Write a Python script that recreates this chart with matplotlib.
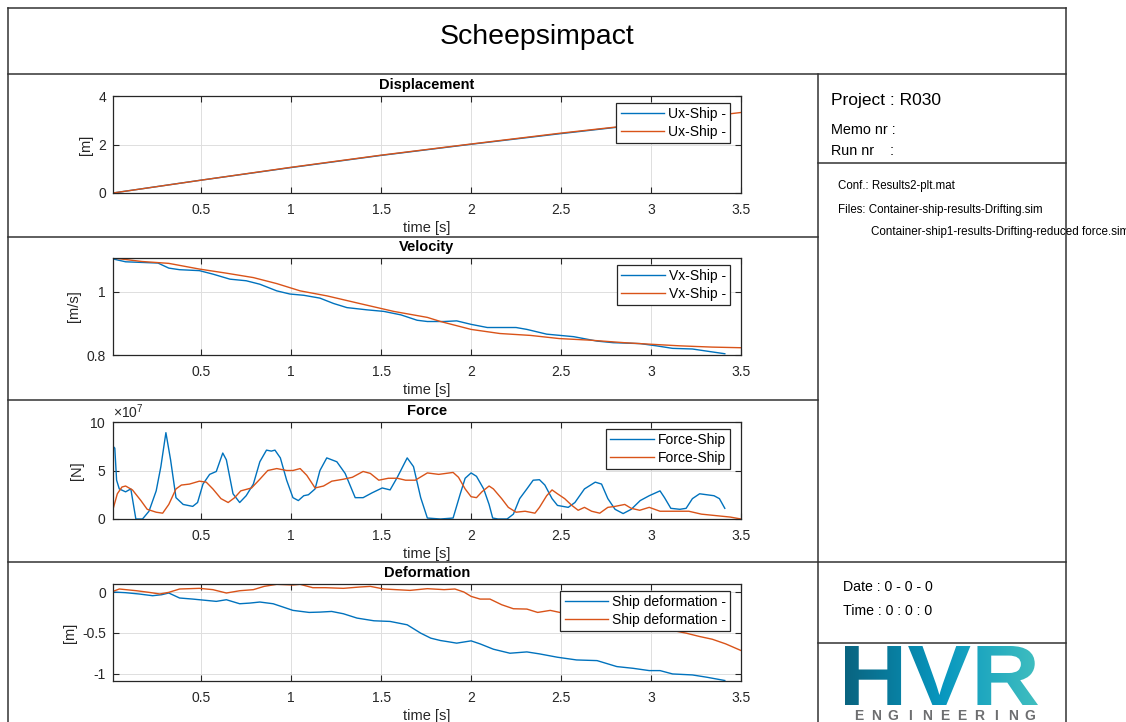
import numpy as np
import matplotlib
matplotlib.use("Agg")
import matplotlib.pyplot as plt
from matplotlib.lines import Line2D
from matplotlib.textpath import TextPath
from matplotlib.patches import PathPatch
from matplotlib.font_manager import FontProperties
from matplotlib.transforms import Affine2D
from matplotlib.colors import LinearSegmentedColormap

plt.rcParams.update({
    "font.family": "Liberation Sans",
    "mathtext.fontset": "custom",
    "mathtext.rm": "Liberation Sans",
    "font.size": 10,
    "axes.edgecolor": "#262626",
    "axes.linewidth": 0.9,
    "xtick.color": "#262626",
    "ytick.color": "#262626",
    "xtick.direction": "in",
    "ytick.direction": "in",
    "xtick.top": True,
    "ytick.right": True,
    "xtick.major.size": 4,
    "ytick.major.size": 4,
    "xtick.major.pad": 7,
    "ytick.major.pad": 5,
    "xtick.labelsize": 10,
    "ytick.labelsize": 10,
})

BLUE = "#0072BD"
ORANGE = "#D95319"

# ---------------- data ----------------
disp_t_blue = [0.01, 0.5, 1.0, 1.5, 2.0, 2.5, 3.0, 3.41]
disp_blue = [0.0, 0.53, 1.05, 1.55, 2.01, 2.45, 2.87, 3.20]
disp_t_orange = [0.01, 0.5, 1.0, 1.5, 2.0, 2.5, 3.0, 3.5]
disp_orange = [0.0, 0.53, 1.06, 1.56, 2.02, 2.47, 2.88, 3.32]

vel_t_blue = [0.01, 0.08, 0.17, 0.26, 0.32, 0.38, 0.49, 0.565, 0.66, 0.75, 0.826, 0.92,
              0.993, 1.07, 1.16, 1.236, 1.31, 1.42, 1.515, 1.61, 1.70, 1.757, 1.85,
              1.92, 2.0, 2.09, 2.25, 2.31, 2.42, 2.57, 2.70, 2.79, 2.94, 3.03, 3.12,
              3.23, 3.325, 3.41]
vel_blue = [1.104, 1.095, 1.093, 1.091, 1.075, 1.070, 1.067, 1.056, 1.040, 1.035, 1.024,
            1.003, 0.993, 0.989, 0.980, 0.963, 0.950, 0.943, 0.938, 0.927, 0.910, 0.906,
            0.906, 0.908, 0.897, 0.887, 0.887, 0.881, 0.866, 0.858, 0.844, 0.839, 0.836,
            0.829, 0.821, 0.819, 0.811, 0.804]
vel_t_orange = [0.01, 0.17, 0.32, 0.49, 0.64, 0.79, 0.92, 1.05, 1.20, 1.38, 1.57, 1.757,
                1.83, 2.0, 2.16, 2.33, 2.49, 2.66, 2.85, 3.0, 3.16, 3.34, 3.5]
vel_orange = [1.107, 1.096, 1.090, 1.072, 1.059, 1.045, 1.026, 1.003, 0.987, 0.963,
              0.938, 0.919, 0.906, 0.881, 0.868, 0.862, 0.852, 0.847, 0.839, 0.834,
              0.829, 0.825, 0.823]

# force in units of 1e7 N
force_t_blue = [0.01, 0.02, 0.03, 0.045, 0.08, 0.109, 0.137, 0.174, 0.21, 0.25, 0.276,
                0.304, 0.33, 0.36, 0.40, 0.453, 0.48, 0.51, 0.547, 0.584, 0.62, 0.64,
                0.677, 0.714, 0.75, 0.79, 0.826, 0.863, 0.89, 0.91, 0.94, 0.975, 1.01,
                1.04, 1.07, 1.096, 1.133, 1.16, 1.198, 1.254, 1.30, 1.356, 1.40, 1.45,
                1.506, 1.55, 1.59, 1.645, 1.68, 1.72, 1.757, 1.83, 1.90, 1.94, 1.967,
                2.0, 2.03, 2.07, 2.10, 2.12, 2.15, 2.20, 2.235, 2.27, 2.31, 2.345,
                2.38, 2.41, 2.45, 2.48, 2.54, 2.577, 2.63, 2.69, 2.725, 2.76, 2.80,
                2.845, 2.89, 2.94, 2.99, 3.05, 3.075, 3.11, 3.16, 3.195, 3.23, 3.27,
                3.31, 3.35, 3.38, 3.41]
force_blue = [7.5, 7.3, 4.0, 3.1, 2.8, 3.1, 0.0, 0.0, 0.8, 2.9, 5.4,
              8.9, 6.1, 2.2, 1.5, 1.3, 1.7, 3.6, 4.6, 4.9, 6.8, 6.1,
              2.6, 1.7, 2.4, 3.6, 5.9, 7.1, 7.0, 7.1, 6.3, 4.0, 2.2,
              1.9, 2.4, 2.5, 3.1, 5.0, 6.3, 5.9, 4.7, 2.2, 2.2, 2.7,
              3.2, 3.0, 4.3, 6.3, 5.4, 2.2, 0.1, 0.0, 0.1, 2.6, 4.2,
              4.75, 4.4, 3.1, 1.5, 0.1, 0.0, 0.0, 0.5, 2.1, 3.1, 4.0,
              4.05, 3.5, 2.1, 1.4, 1.2, 1.7, 3.1, 3.8, 3.6, 2.1, 1.0,
              0.56, 1.0, 1.9, 2.4, 2.9, 2.2, 1.1, 1.0, 1.1, 2.1, 2.6,
              2.5, 2.4, 2.1, 1.1]
force_t_orange = [0.01, 0.034, 0.06, 0.08, 0.118, 0.165, 0.20, 0.25, 0.286, 0.32, 0.36,
                  0.39, 0.435, 0.49, 0.528, 0.565, 0.61, 0.65, 0.686, 0.72, 0.78, 0.826,
                  0.87, 0.92, 0.975, 1.01, 1.05, 1.087, 1.133, 1.18, 1.226, 1.29, 1.34,
                  1.40, 1.44, 1.487, 1.54, 1.59, 1.636, 1.69, 1.757, 1.82, 1.90, 1.93,
                  1.967, 2.0, 2.03, 2.06, 2.10, 2.124, 2.17, 2.207, 2.25, 2.30, 2.355,
                  2.38, 2.42, 2.45, 2.48, 2.52, 2.56, 2.595, 2.63, 2.67, 2.715, 2.76,
                  2.80, 2.854, 2.89, 2.937, 2.99, 3.05, 3.12, 3.21, 3.28, 3.36, 3.44, 3.5]
force_orange = [1.0, 2.6, 3.3, 3.4, 3.0, 1.9, 1.0, 0.7, 0.6, 1.5, 3.1,
                3.5, 3.6, 3.9, 3.8, 3.1, 2.1, 1.7, 2.2, 2.9, 3.2, 4.1,
                5.0, 5.2, 5.0, 5.0, 5.2, 4.5, 3.2, 3.4, 3.9, 4.1, 4.3,
                4.9, 4.7, 4.0, 4.2, 4.2, 4.0, 4.0, 4.75, 4.6, 4.8, 4.3,
                3.1, 2.3, 2.2, 2.8, 3.4, 3.1, 2.1, 1.2, 0.7, 0.8, 0.6,
                1.2, 2.4, 3.0, 2.6, 2.1, 1.4, 0.9, 1.2, 0.8, 0.6, 1.2,
                1.3, 1.5, 1.1, 0.9, 1.2, 0.8, 0.8, 0.8, 0.5, 0.35, 0.2, 0.0]

def_t_blue = [0.01, 0.08, 0.155, 0.23, 0.28, 0.32, 0.38, 0.453, 0.528, 0.584, 0.64,
              0.714, 0.77, 0.826, 0.90, 0.956, 1.01, 1.10, 1.16, 1.225, 1.29, 1.366,
              1.46, 1.55, 1.645, 1.72, 1.776, 1.83, 1.865, 1.92, 2.0, 2.05, 2.124,
              2.216, 2.31, 2.38, 2.48, 2.586, 2.70, 2.81, 2.90, 2.99, 3.05, 3.12,
              3.23, 3.31, 3.41]
def_blue = [0.0, -0.008, -0.024, -0.045, -0.033, -0.012, -0.073, -0.086, -0.102,
            -0.114, -0.094, -0.143, -0.135, -0.122, -0.143, -0.184, -0.224, -0.249,
            -0.245, -0.237, -0.265, -0.318, -0.351, -0.359, -0.40, -0.502, -0.563,
            -0.592, -0.604, -0.624, -0.596, -0.633, -0.698, -0.747, -0.731, -0.755,
            -0.796, -0.829, -0.837, -0.91, -0.931, -0.959, -0.959, -1.0, -1.012,
            -1.04, -1.08]
def_t_orange = [0.01, 0.045, 0.14, 0.21, 0.27, 0.32, 0.38, 0.49, 0.565, 0.64, 0.715,
                0.79, 0.85, 0.92, 1.01, 1.05, 1.12, 1.19, 1.29, 1.38, 1.44, 1.515,
                1.66, 1.757, 1.85, 1.91, 1.96, 2.0, 2.05, 2.105, 2.17, 2.235, 2.31,
                2.37, 2.44, 2.51, 2.6, 2.7, 2.8, 2.9, 3.0, 3.12, 3.195, 3.27, 3.34,
                3.415, 3.5]
def_orange = [0.008, 0.037, 0.016, -0.004, -0.024, -0.004, 0.037, 0.045, 0.029,
              -0.012, 0.016, 0.029, 0.069, 0.094, 0.086, 0.094, 0.053, 0.053, 0.045,
              0.061, 0.069, 0.037, 0.02, 0.041, 0.029, 0.037, 0.0, -0.053, -0.086,
              -0.086, -0.155, -0.204, -0.208, -0.249, -0.224, -0.257, -0.28, -0.32,
              -0.36, -0.39, -0.42, -0.469, -0.502, -0.543, -0.576, -0.633, -0.714]

time_ticks = [0.5, 1, 1.5, 2, 2.5, 3, 3.5]
time_ticklabels = ["0.5", "1", "1.5", "2", "2.5", "3", "3.5"]

# ---------------- figure / frame ----------------
W, H = 1126, 722
fig = plt.figure(figsize=(W / 100, H / 100), dpi=100)


def fx(px):
    return px / W


def fy(py):
    return 1 - py / H


def hline(y, x0, x1):
    fig.add_artist(Line2D([fx(x0), fx(x1)], [fy(y), fy(y)], transform=fig.transFigure,
                          color="#333333", lw=1.1))


def vline(x, y0, y1):
    fig.add_artist(Line2D([fx(x), fx(x)], [fy(y0), fy(y1)], transform=fig.transFigure,
                          color="#333333", lw=1.1))


hline(8, 8, 1066)
hline(74, 8, 1066)
vline(8, 8, 722)
vline(1066, 8, 722)
vline(818, 74, 722)
hline(237, 8, 818)
hline(400, 8, 818)
hline(562, 8, 1066)
hline(163, 818, 1066)
hline(643, 818, 1066)

fig.text(fx(537), fy(37), "Scheepsimpact", ha="center", va="center", fontsize=20.5, color="black")

# right panel
fig.text(fx(831), fy(100), "Project : R030", va="center", fontsize=12.5)
fig.text(fx(831), fy(129.5), "Memo nr :", va="center", fontsize=10.4)
fig.text(fx(831), fy(151), "Run nr    :", va="center", fontsize=10.4)
fig.text(fx(838), fy(186), "Conf.: Results2-plt.mat", va="center", fontsize=8.3)
fig.text(fx(838), fy(210), "Files: Container-ship-results-Drifting.sim", va="center", fontsize=8.3)
fig.text(fx(871), fy(232), "Container-ship1-results-Drifting-reduced force.sim", va="center", fontsize=8.4)
fig.text(fx(843), fy(587), "Date : 0 - 0 - 0", va="center", fontsize=10.2)
fig.text(fx(843), fy(611), "Time : 0 : 0 : 0", va="center", fontsize=10.2)

# logo
logo_ax = fig.add_axes([fx(830), fy(722), fx(1060) - fx(830), fy(644) - fy(722)])
logo_ax.axis("off")
tp = TextPath((0, 0), "HVR", size=100, prop=FontProperties(family="Liberation Sans", weight="bold"))
ext = tp.get_extents()
trans = Affine2D().translate(-ext.x0, -ext.y0).scale((1038 - 845) / ext.width, -(705 - 646) / ext.height).translate(845, 705)
logo_patch = PathPatch(trans.transform_path(tp), facecolor="none", edgecolor="none", transform=logo_ax.transData)
logo_ax.add_patch(logo_patch)
cmap = LinearSegmentedColormap.from_list("hvr", ["#0a6480", "#0797bf", "#40bec0"])
im = logo_ax.imshow(np.linspace(0, 1, 256).reshape(1, -1), cmap=cmap, aspect="auto",
                    extent=[845, 1038, 705, 646])
im.set_clip_path(logo_patch)
logo_ax.set_xlim(830, 1060)
logo_ax.set_ylim(722, 644)
for i, ch in enumerate("ENGINEERING"):
    fig.text(fx(859 + i * 17.1), fy(716), ch, ha="center", va="center", fontsize=10,
             fontweight="bold", color="#6d6e70")

# ---------------- axes ----------------
ax_left, ax_w, ax_h = fx(113), fx(741) - fx(113), fy(96) - fy(193)


def make_ax(top_px, title, ylabel):
    ax = fig.add_axes([ax_left, fy(top_px + 97), ax_w, ax_h])
    ax.set_title(title, fontsize=10.5, fontweight="bold", pad=5)
    ax.set_xlabel("time [s]", fontsize=10.5, color="#262626", labelpad=3)
    ax.set_ylabel(ylabel, fontsize=10.5, color="#262626")
    ax.set_xlim(0.01, 3.5)
    ax.set_xticks(time_ticks)
    ax.set_xticklabels(time_ticklabels)
    ax.grid(True, color="#dedede", lw=0.7)
    ax.set_axisbelow(True)
    return ax


def add_legend(ax, labels):
    leg = ax.legend(labels, loc="upper right", bbox_to_anchor=(1 - 11 / 628, 1 - 6.5 / 97),
                    borderaxespad=0, fancybox=False, framealpha=1, edgecolor="#262626",
                    fontsize=10, handlelength=3.1, handletextpad=0.3, labelspacing=0.3,
                    borderpad=0.3)
    leg.get_frame().set_linewidth(0.9)


ax1 = make_ax(96, "Displacement", "[m]")
ax1.plot(disp_t_blue, disp_blue, color=BLUE, lw=1)
ax1.plot(disp_t_orange, disp_orange, color=ORANGE, lw=1)
ax1.set_ylim(0, 4)
ax1.set_yticks([0, 2, 4])
add_legend(ax1, ["Ux-Ship -", "Ux-Ship -"])

ax2 = make_ax(258, "Velocity", "[m/s]")
ax2.plot(vel_t_blue, vel_blue, color=BLUE, lw=1)
ax2.plot(vel_t_orange, vel_orange, color=ORANGE, lw=1)
ax2.set_ylim(0.8, 1.107)
ax2.set_yticks([0.8, 1.0])
ax2.set_yticklabels(["0.8", "1"])
add_legend(ax2, ["Vx-Ship -", "Vx-Ship -"])

ax3 = make_ax(422, "Force", "[N]")
ax3.plot(force_t_blue, np.array(force_blue) * 1e7, color=BLUE, lw=1)
ax3.plot(force_t_orange, np.array(force_orange) * 1e7, color=ORANGE, lw=1)
ax3.set_ylim(0, 1e8)
ax3.set_yticks([0, 5e7, 1e8])
ax3.ticklabel_format(axis="y", style="sci", scilimits=(7, 7), useMathText=True)
ax3.yaxis.get_offset_text().set_fontsize(10)
add_legend(ax3, ["Force-Ship", "Force-Ship"])

ax4 = make_ax(584, "Deformation", "[m]")
ax4.plot(def_t_blue, def_blue, color=BLUE, lw=1)
ax4.plot(def_t_orange, def_orange, color=ORANGE, lw=1)
ax4.set_ylim(-1.086, 0.098)
ax4.set_yticks([-1, -0.5, 0])
ax4.set_yticklabels(["-1", "-0.5", "0"])
add_legend(ax4, ["Ship deformation -", "Ship deformation -"])

fig.savefig("out.png", dpi=100)
